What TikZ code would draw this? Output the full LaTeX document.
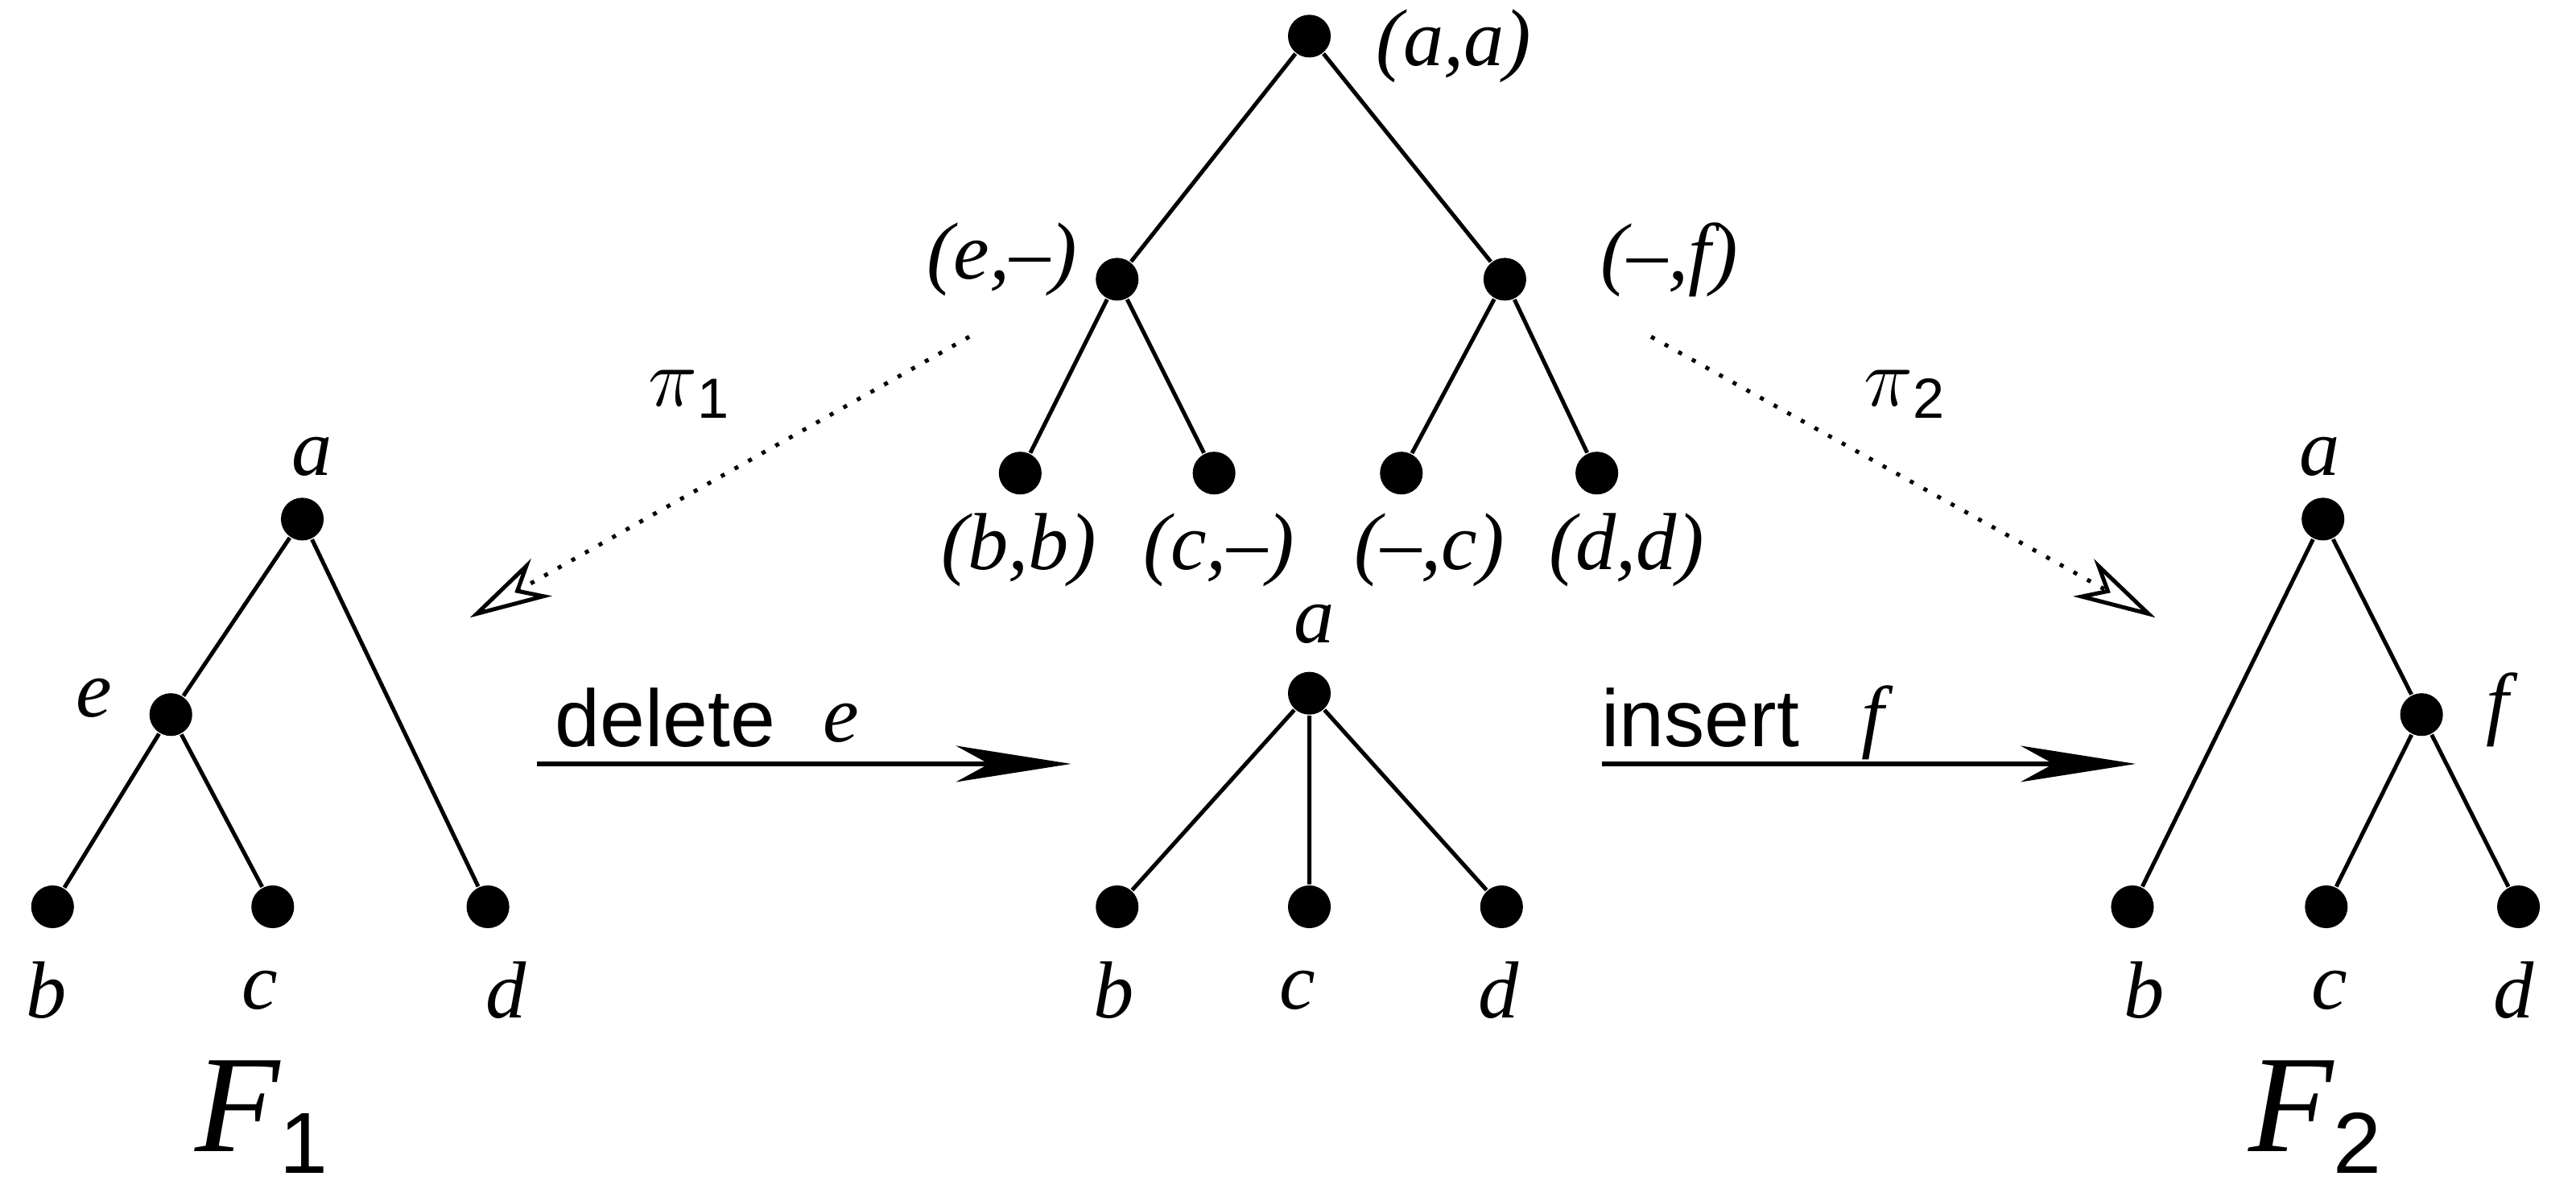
\documentclass[tikz,border=0pt]{standalone}
\usepackage{fontspec}
\setmainfont{Liberation Serif}
\setsansfont{Liberation Sans}
\usetikzlibrary{arrows.meta}
\begin{document}
\begin{tikzpicture}[x=0.01cm,y=-0.01cm,
  dot/.style={circle,fill=black,inner sep=0pt,minimum size=0.26cm},
  lab/.style={font=\fontsize{14}{16}\selectfont\itshape,inner sep=0pt},
  big/.style={font=\fontsize{24}{28}\selectfont\itshape,inner sep=0pt},
  sans/.style={font=\sffamily\fontsize{14}{16}\selectfont,inner sep=0pt},
  edge/.style={line width=0.7pt},
  op/.style={line width=0.8pt,-{Stealth[length=7mm,width=2.2mm,inset=2mm]}},
  proj/.style={dotted,line width=0.7pt,-{Stealth[open,length=5mm,width=2.6mm,inset=1.5mm]}}]
\useasboundingbox (0,0) rectangle (1568,731);
% top tree
\node[dot] (r) at (797,22) {};
\node[dot] (e1) at (680,170) {};
\node[dot] (f1) at (916,170) {};
\node[dot] (l1) at (621,288) {};
\node[dot] (l2) at (739,288) {};
\node[dot] (l3) at (853,288) {};
\node[dot] (l4) at (972,288) {};
\draw[edge] (r)--(e1) (r)--(f1) (e1)--(l1) (e1)--(l2) (f1)--(l3) (f1)--(l4);
\node[lab] (tr) at (885,28) {(a,a)};
\node[lab] (te) at (610,158) {(e,--)};
\node[lab] (tf) at (1016,158) {(--,f)};
\node[lab] (t1) at (620,335) {(b,b)};
\node[lab] (t2) at (742,335) {(c,--)};
\node[lab] (t3) at (870,335) {(--,c)};
\node[lab] (t4) at (990,335) {(d,d)};
% F1
\node[dot] (a1) at (184,316) {};
\node[dot] (ee) at (104,435) {};
\node[dot] (b1) at (32,552) {};
\node[dot] (c1) at (166,552) {};
\node[dot] (d1) at (297,552) {};
\draw[edge] (a1)--(ee) (a1)--(d1) (ee)--(b1) (ee)--(c1);
\node[lab] (la1) at (190,278) {a};
\node[lab] (le) at (57,425) {e};
\node[lab] (lb1) at (28,603) {b};
\node[lab] (lc1) at (158,603) {c};
\node[lab] (ld1) at (308,603) {d};
\node[big] (F1) at (160,680) {F\textsubscript{\upshape\sffamily\fontsize{15}{16}\selectfont 1}};
% middle
\node[dot] (a2) at (797,422) {};
\node[dot] (b2) at (680,552) {};
\node[dot] (c2) at (797,552) {};
\node[dot] (d2) at (914,552) {};
\draw[edge] (a2)--(b2) (a2)--(c2) (a2)--(d2);
\node[lab] (la2) at (800,380) {a};
\node[lab] (lb2) at (678,603) {b};
\node[lab] (lc2) at (790,603) {c};
\node[lab] (ld2) at (912,603) {d};
% F2
\node[dot] (a3) at (1414,316) {};
\node[dot] (ff) at (1474,435) {};
\node[dot] (b3) at (1298,552) {};
\node[dot] (c3) at (1416,552) {};
\node[dot] (d3) at (1533,552) {};
\draw[edge] (a3)--(b3) (a3)--(ff) (ff)--(c3) (ff)--(d3);
\node[lab] (la3) at (1412,278) {a};
\node[lab] (lf) at (1520,432) {f};
\node[lab] (lb3) at (1305,603) {b};
\node[lab] (lc3) at (1418,603) {c};
\node[lab] (ld3) at (1530,603) {d};
\node[big] (F2) at (1410,680) {F\textsubscript{\upshape\sffamily\fontsize{15}{16}\selectfont 2}};
% operations
\coordinate (p1) at (327,465); \coordinate (p2) at (652,465);
\coordinate (q1) at (975,465); \coordinate (q2) at (1300,465);
\draw[op] (p1)--(p2);
\draw[op] (q1)--(q2);
\node[sans] (del) at (405,437) {delete};
\node[lab] (de) at (512,440) {e};
\node[sans] (ins) at (1035,437) {insert};
\node[lab] (inf) at (1140,440) {f};
% projections
\coordinate (s1) at (590,205); \coordinate (e1p) at (286,376);
\coordinate (s2) at (1005,205); \coordinate (e2p) at (1312,376);
\draw[proj] (s1)--(e1p);
\draw[proj] (s2)--(e2p);
\node[sans] (pi1) at (420,240) {$\pi$\textsubscript{1}};
\node[sans] (pi2) at (1160,240) {$\pi$\textsubscript{2}};
\end{tikzpicture}
\end{document}
